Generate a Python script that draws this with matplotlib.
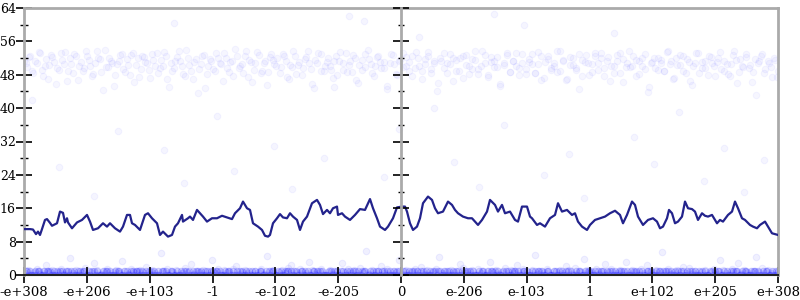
import numpy as np
import matplotlib
matplotlib.use('agg')
import matplotlib.pyplot as plt
from matplotlib.ticker import MultipleLocator

# x runs over 12 equal steps; positions are sample indices 0..754
x_tick_labels = ['-e+308', '-e+206', '-e+103', '-1', '-e-102', '-e-205', '0',
                 'e-206', 'e-103', '1', 'e+102', 'e+205', 'e+308']
x_span = 754

# moving average line
line_x = [0, 6, 9, 12, 14, 16, 18, 21, 23, 26, 28, 33, 36, 39, 41, 43, 44, 48, 53, 58, 63, 66, 69, 74, 79, 83, 86, 91, 96, 99, 103, 106, 108, 111, 116, 121, 124,
          128, 133, 136, 139, 144, 148, 151, 154, 158, 159, 164, 166, 169, 173, 176, 179, 183, 188, 193, 198, 203, 208, 211, 216, 219, 223, 226, 229, 234, 238, 241, 244, 246, 249,
          253, 256, 259, 263, 266, 269, 273, 276, 279, 283, 288, 293, 296, 299, 303, 306, 309, 313, 314, 318, 321, 326, 331, 336, 341, 346, 349, 353, 356, 361, 364, 369, 373, 378,
          381, 383, 386, 389, 393, 396, 399, 404, 408, 411, 414, 419, 424, 428, 431, 434, 439, 444, 448, 451, 454, 458, 463, 466, 471, 474, 478, 481, 486, 491, 494, 498, 503, 506,
          508, 513, 516, 521, 526, 531, 534, 538, 543, 548, 551, 554, 558, 563, 566, 571, 576, 581, 586, 591, 596, 599, 603, 608, 611, 614, 619, 624, 629,
          633, 636, 639, 643, 645, 648, 651, 654, 658, 661, 664, 668, 671, 674, 678, 681, 684, 688, 693, 696, 699, 704, 708, 711, 714, 718, 721, 726, 729, 733, 736, 741, 744, 748, 754]
line_y = [11.0, 11.0, 10.9, 9.8, 10.4, 9.6, 11.0, 13.2, 13.4, 12.5, 11.8, 12.4, 15.2, 14.9, 12.6, 13.6, 12.6, 11.2, 12.6, 13.2, 14.4, 12.8, 10.8, 11.2, 12.4, 11.6, 12.4, 11.2, 10.4, 11.6, 14.4, 14.4, 12.4, 12.0, 10.8, 14.4, 14.8,
          13.6, 12.4, 9.6, 10.4, 9.2, 9.6, 11.6, 12.4, 14.4, 12.8, 13.6, 14.0, 13.2, 15.6, 14.8, 14.0, 12.8, 13.6, 13.6, 14.2, 13.8, 13.4, 14.8, 16.0, 17.6, 16.0, 15.6, 12.4, 11.6, 10.8, 9.4, 9.2, 9.6, 12.4,
          13.6, 14.6, 13.8, 13.6, 14.8, 14.0, 13.2, 10.8, 12.8, 14.0, 17.2, 18.0, 16.8, 14.6, 15.6, 14.8, 16.0, 16.4, 14.4, 14.8, 14.0, 13.2, 14.4, 15.8, 15.6, 18.2, 16.0, 13.6, 11.6, 10.8, 11.6, 13.6, 16.2, 16.4,
          16.4, 15.2, 12.4, 10.8, 11.6, 13.6, 17.2, 18.8, 18.0, 16.0, 14.8, 15.2, 17.6, 16.8, 15.6, 14.8, 14.0, 13.6, 13.6, 12.8, 12.0, 13.2, 15.2, 18.0, 16.8, 15.2, 16.8, 14.8, 15.2, 13.2, 12.8, 16.4, 16.4, 14.0,
          13.6, 12.0, 12.4, 11.6, 13.6, 14.4, 17.2, 15.2, 15.6, 14.4, 14.8, 12.8, 11.6, 10.8, 12.0, 13.2, 13.6, 14.0, 14.8, 15.4, 14.4, 12.4, 14.4, 17.6, 16.8, 14.0, 12.0, 13.2, 13.6,
          12.8, 11.2, 11.6, 13.6, 15.6, 14.8, 12.4, 12.8, 14.0, 17.6, 16.0, 15.8, 15.2, 13.2, 14.8, 14.2, 14.0, 14.4, 12.4, 13.2, 12.8, 14.4, 15.2, 17.6, 16.0, 13.6, 13.2, 12.0, 11.6, 11.2, 12.0, 12.8, 11.6, 10.0, 9.6]

# upper cluster of samples (read approximately), two passes across the width
upper_y = [51.2, 49.8, 52.6, 48.4, 50.9, 53.1, 47.6, 51.7, 50.3, 52.2, 45.9, 49.1, 51.5, 53.4, 48.8, 50.6, 52.9, 46.7, 51.0, 49.5,
           52.4, 50.1, 48.2, 53.6, 51.8, 44.3, 49.9, 52.0, 50.7, 47.9, 51.3, 53.0, 48.6, 50.4, 52.7, 46.2, 51.9, 49.3, 52.3, 50.8,
           47.2, 51.6, 53.3, 49.6, 50.2, 52.5, 45.1, 48.9, 51.4, 53.8, 50.0, 47.7, 52.1, 49.0, 51.1, 43.6, 50.5, 52.8, 48.1, 51.7,
           49.4, 53.2, 50.9, 46.5, 52.0, 48.7, 51.3, 54.1, 49.7, 50.6, 52.6, 47.4, 51.0, 49.2, 53.5, 48.3, 50.8, 45.6, 52.2, 51.5,
           50.2, 48.5, 53.0, 51.2, 46.9, 49.9, 52.4, 50.4, 48.0, 51.8, 53.7, 49.4, 44.8, 50.7, 52.9, 48.8, 51.1, 50.0, 47.3, 52.5,
           51.4, 49.1, 53.3, 50.3, 48.6, 52.0, 46.0, 51.6, 49.8, 53.9, 50.5, 47.8, 52.3, 51.0, 49.6, 45.3, 50.9, 52.7, 48.2, 51.3,
           53.1, 50.1, 48.9, 52.6, 49.5, 51.9, 47.0, 50.6, 53.4, 48.4, 51.2, 44.0, 52.1, 49.7, 50.8, 53.0, 46.4, 51.5, 49.0, 52.4,
           50.4, 48.1, 51.7, 53.6, 49.3, 50.0, 52.8, 47.5, 51.1, 49.9, 52.2, 45.7, 50.7, 53.2, 48.6, 51.4, 50.2, 47.9, 52.9, 49.4,
           51.8, 50.5, 48.3, 53.5, 46.8, 51.0, 52.5, 49.1, 50.9, 48.7, 53.8, 51.3, 47.1, 50.3, 52.0, 49.6, 44.6, 51.6, 52.7, 48.0,
           50.6, 53.1, 49.2, 51.9, 47.6, 52.3, 50.1, 48.5, 51.2, 53.3, 46.3, 50.8, 49.8, 52.6, 51.5, 48.2, 50.0, 53.0, 45.0, 51.1,
           49.5, 52.1, 50.7, 48.8, 53.7, 51.4, 47.3, 50.4, 52.8, 49.0, 51.7, 46.6, 50.2, 53.2, 48.4, 51.0, 49.7, 52.4, 50.9, 47.8,
           52.0, 49.3, 51.3, 48.1, 50.5, 53.6, 46.1, 51.8, 49.9, 52.2, 50.3, 48.6, 43.2, 51.2, 52.9, 49.4, 50.8, 47.4, 51.6, 49.0]
upper_y2 = [50.7, 52.3, 48.9, 51.4, 53.5, 49.2, 50.0, 47.1, 52.8, 51.1, 49.6, 53.2, 50.5, 46.4, 51.9, 48.3, 52.5, 50.2, 49.0, 53.7,
            51.5, 47.8, 50.9, 52.1, 48.7, 54.0, 49.9, 51.3, 45.4, 50.6, 52.7, 49.4, 51.8, 48.0, 53.1, 50.3, 47.5, 52.4, 51.0, 49.1,
            52.9, 50.1, 48.5, 51.6, 53.4, 46.9, 50.8, 49.7, 52.2, 51.2, 48.2, 53.9, 50.4, 47.0, 51.7, 49.3, 52.6, 44.9, 50.0, 51.4,
            48.8, 52.0, 50.6, 53.3, 49.5, 51.1, 47.7, 52.4, 50.2, 48.4, 53.6, 51.5, 46.2, 50.9, 52.8, 49.0, 51.3, 48.6, 53.0, 50.5,
            51.9, 49.8, 52.5, 47.4, 50.3, 53.8, 48.1, 51.0, 49.6, 52.3, 50.7, 45.8, 51.6, 53.2, 48.9, 50.1, 52.0, 49.2, 51.4, 47.9,
            53.4, 50.8, 48.6, 51.2, 52.7, 46.7, 50.4, 49.1, 53.0, 51.8, 48.3, 50.0, 52.4, 49.7, 51.1, 44.5, 52.9, 50.6, 48.0, 51.5,
            49.9, 52.2, 51.0, 47.6, 53.5, 50.2, 48.8, 51.7, 52.6, 49.4, 50.9, 46.1, 51.3, 53.1, 48.5, 50.5, 52.1, 49.0, 51.9, 47.2,
            52.7, 50.0, 49.3, 51.6, 48.2, 53.7, 50.7, 47.9, 52.3, 51.2, 49.8, 45.2, 50.3, 52.8, 48.7, 51.4, 53.3, 49.5, 50.8, 48.1,
            51.1, 53.0, 48.4, 50.6, 52.5, 47.3, 51.8, 49.6, 50.1, 53.6, 48.9, 51.5, 46.8, 52.2, 50.4, 49.1, 52.9, 47.8, 51.0, 50.7,
            48.6, 52.4, 50.9, 53.2, 49.7, 51.3, 46.5, 50.2, 52.7, 48.3, 51.7, 49.9, 53.8, 50.0, 47.6, 51.2, 52.0, 49.4, 43.9, 50.8,
            52.1, 49.2, 51.6, 48.8, 53.4, 50.5, 47.0, 51.9, 50.3, 52.6, 48.5, 51.1, 45.6, 50.7, 53.1, 49.6, 51.4, 48.0, 52.3, 50.1,
            51.0, 53.5, 49.0, 50.6, 47.7, 52.8, 51.5, 48.7, 50.2, 53.0, 49.5, 46.3, 51.8, 50.9, 52.5, 48.4, 51.2, 49.8, 52.0, 47.4]

# lower cluster: the dense strip at 0 / 1 and the thinner fuzz above it
lower_strip_y = [0, 1, 1, 0, 1, 0, 0, 1, 0, 1, 1, 0, 0, 1, 0, 1, 1, 1, 0, 0, 1, 0, 1, 0, 1,
                 1, 0, 0, 1, 1, 0, 1, 0, 1, 0, 0, 1, 1, 0, 1, 1, 0, 0, 1, 0, 1, 1, 0, 1, 0,
                 0, 0, 1, 0, 1, 1, 0, 1, 0, 0, 1, 0, 1, 1, 0, 0, 1, 0, 1, 0, 0, 1, 1, 0, 1,
                 1, 1, 0, 1, 0, 0, 1, 0, 1, 1, 0, 1, 0, 0, 1, 0, 1, 1, 0, 1, 0, 0, 1, 1, 0,
                 0, 1, 0, 0, 1, 0, 1, 1, 0, 1, 0, 0, 1, 0, 1, 1, 0, 1, 0, 0, 1, 1, 0, 0, 1,
                 1, 0, 1, 1, 0, 1, 0, 0, 1, 0, 1, 1, 0, 1, 0, 0, 1, 0, 1, 1, 0, 0, 1, 0, 1,
                 0, 1, 0, 1, 0, 0, 1, 1, 0, 0, 1, 0, 1, 0, 1, 1, 0, 0, 1, 0, 1, 0, 0, 1, 1,
                 1, 0, 1, 0, 1, 1, 0, 0, 1, 1, 0, 1, 0, 1, 0, 0, 1, 1, 0, 1, 0, 1, 1, 0, 0,
                 0, 0, 1, 1, 0, 1, 0, 1, 0, 0, 1, 1, 0, 0, 1, 0, 1, 0, 1, 1, 0, 1, 0, 0, 1,
                 1, 1, 0, 0, 1, 0, 1, 0, 1, 1, 0, 0, 1, 1, 0, 1, 0, 1, 0, 0, 1, 0, 1, 1, 0,
                 0, 1, 1, 0, 0, 1, 0, 1, 1, 0, 1, 0, 0, 1, 1, 0, 1, 0, 0, 1, 0, 1, 1, 0, 1,
                 1, 0, 0, 1, 0, 1, 1, 0, 0, 1, 0, 1, 1, 0, 0, 1, 0, 1, 1, 0, 1, 0, 1, 0, 0,
                 0, 1, 0, 1, 1, 0, 0, 1, 0, 1, 1, 0, 1, 0, 1, 0, 0, 1, 0, 1, 1, 0, 0, 1, 1,
                 1, 0, 1, 0, 0, 1, 1, 0, 1, 0, 0, 1, 0, 1, 0, 1, 1, 0, 1, 0, 0, 1, 1, 0, 0,
                 0, 1, 1, 0, 1, 0, 1, 0, 0, 1, 1, 0, 1, 0, 0, 1, 0, 1, 1, 0, 0, 1, 0, 1, 1,
                 1, 0, 0, 1, 0, 1, 0, 1, 1, 0, 0, 1, 0, 1, 1, 0, 1, 0, 0, 1, 1, 0, 1, 0, 1,
                 0, 0, 1, 0, 1, 1, 0, 1, 0, 1, 0, 0, 1, 1, 0, 1, 0, 0, 1, 0, 1, 1, 0, 1, 0,
                 1, 1, 0, 1, 0, 0, 1, 0, 1, 0, 1, 1, 0, 0, 1, 0, 1, 1, 0, 1, 0, 0, 1, 0, 1,
                 0, 1, 0, 0, 1, 1, 0, 1, 0, 1, 1, 0, 0, 1, 0, 1, 0, 0, 1, 1, 0, 1, 1, 0, 0,
                 1, 0, 1, 1, 0, 0, 1, 0, 1, 1, 0, 1, 0, 0, 1, 0, 1, 1, 0, 0, 1, 0, 0, 1, 1]
lower_y = [0.4, 1.1, 0.0, 0.8, 1.5, 0.2, 0.9, 2.3, 0.6, 1.3, 0.0, 0.7, 1.4, 0.3, 1.0, 4.1, 0.5, 1.2, 0.1, 0.8, 1.6, 0.0, 0.6, 2.8, 1.1,
           0.3, 0.9, 1.4, 0.0, 0.7, 1.2, 0.4, 3.3, 1.0, 0.2, 1.5, 0.6, 0.0, 1.1, 0.8, 1.9, 0.3, 1.3, 0.5, 0.0, 5.2, 0.9, 1.4, 0.1, 0.7,
           1.2, 0.0, 0.5, 1.6, 0.8, 2.6, 0.2, 1.0, 0.6, 1.3, 0.0, 0.9, 3.7, 0.4, 1.5, 0.1, 1.1, 0.7, 0.0, 1.4, 2.1, 0.3, 0.8, 1.2, 0.5,
           0.0, 1.0, 0.6, 1.5, 0.2, 4.6, 0.9, 1.3, 0.0, 0.7, 1.1, 0.4, 1.6, 2.4, 0.1, 0.8, 1.4, 0.0, 0.5, 3.0, 1.2, 0.3, 0.9, 1.5, 0.0,
           0.7, 1.3, 0.2, 1.0, 0.0, 2.9, 0.6, 1.4, 0.4, 1.1, 0.0, 1.6, 0.8, 5.8, 0.3, 1.2, 0.1, 0.9, 2.2, 0.5, 1.5, 0.0, 1.0, 0.7, 3.5,
           0.2, 1.1, 0.0, 0.6, 1.4, 0.9, 2.0, 0.3, 1.2, 0.0, 0.8, 1.5, 4.3, 0.5, 1.0, 0.1, 1.3, 0.7, 0.0, 2.7, 1.6, 0.4, 0.9, 1.2, 0.0,
           1.4, 0.5, 0.0, 1.0, 3.1, 0.8, 1.3, 0.2, 0.6, 1.6, 0.0, 1.1, 0.4, 2.5, 0.9, 1.4, 0.0, 0.7, 1.2, 4.8, 0.3, 1.0, 0.6, 1.5, 0.1,
           0.9, 0.0, 1.3, 0.5, 2.2, 1.1, 0.3, 1.6, 0.0, 0.8, 3.9, 1.2, 0.6, 0.0, 1.4, 0.2, 1.0, 2.6, 0.7, 1.5, 0.0, 0.4, 1.1, 0.9, 3.2,
           0.1, 1.2, 0.7, 0.0, 1.5, 0.4, 2.4, 1.0, 0.6, 1.3, 0.0, 5.5, 0.9, 1.4, 0.2, 0.8, 1.1, 0.0, 2.0, 0.5, 1.6, 0.3, 1.0, 0.0, 0.7,
           1.3, 0.0, 0.8, 1.5, 0.2, 3.6, 1.1, 0.5, 0.0, 1.4, 0.9, 2.8, 0.3, 1.2, 0.6, 0.0, 1.0, 4.4, 0.7, 1.6, 0.1, 1.3, 0.4, 0.9, 0.0]

# scattered stray samples
stray_x = [8, 35, 70, 94, 140, 160, 193, 210, 250, 268, 300, 325, 340, 360, 375, 395, 410, 430,
           455, 480, 500, 520, 545, 560, 590, 610, 630, 655, 680, 700, 720, 740, 310, 150, 470]
stray_y = [42, 26, 19, 34.5, 30, 22, 38, 25, 31, 20.5, 28, 62, 61, 23.5, 35, 57, 40, 27,
           21, 36, 60, 24, 29, 18.5, 58, 33, 26.5, 39, 22.5, 30.5, 20, 27.5, 45, 60.5, 62.5]

serif = 'DejaVu Serif'
spine_grey = '#aaaaaa'
dot_blue = '#0000ff'

fig = plt.figure(figsize=(8, 3), dpi=100)
ax = fig.add_axes([24 / 800, 25 / 300, 754 / 800, 267 / 300])

ax.scatter(np.linspace(0, x_span, len(upper_y)), upper_y, s=22, color=dot_blue, alpha=0.035, linewidths=0.8, zorder=1)
ax.scatter(np.linspace(2, x_span - 1, len(upper_y2)), upper_y2, s=22, color=dot_blue, alpha=0.035, linewidths=0.8, zorder=1)
ax.scatter(stray_x, stray_y, s=22, color=dot_blue, alpha=0.04, linewidths=0.8, zorder=1)
ax.scatter(np.linspace(0, x_span, len(lower_strip_y)), lower_strip_y, s=22, color=dot_blue, alpha=0.14, linewidths=0.8, zorder=1)
ax.scatter(np.linspace(1, x_span - 1, len(lower_y)), lower_y, s=22, color=dot_blue, alpha=0.06, linewidths=0.8, zorder=1)
ax.plot(line_x, line_y, color='#23238c', lw=1.6, zorder=3)

ax.set_xlim(0, x_span)
ax.set_ylim(0, 64)
ax.set_xticks(np.linspace(0, x_span, 13))
ax.set_xticklabels(x_tick_labels, family=serif, fontsize=9.5)
ax.yaxis.set_major_locator(MultipleLocator(8))
ax.yaxis.set_minor_locator(MultipleLocator(4))
for lab in ax.get_yticklabels():
    lab.set_family(serif)
    lab.set_fontsize(9)

ax.tick_params(axis='x', direction='inout', length=12, width=1.2, pad=2)
ax.tick_params(axis='y', which='major', direction='inout', length=12, width=1.2,
               pad=0, right=True)
ax.tick_params(axis='y', which='minor', direction='inout', length=6, width=1.0, right=True)

for side in ['left', 'right', 'top']:
    ax.spines[side].set_color(spine_grey)
    ax.spines[side].set_linewidth(2)
ax.spines['bottom'].set_color('#222222')
ax.spines['bottom'].set_linewidth(1.5)

# middle vertical axis at x = 0
ax2 = ax.twinx()
ax2.set_ylim(0, 64)
ax2.spines['left'].set_position(('axes', 0.5))
ax2.yaxis.set_ticks_position('left')
ax2.spines['left'].set_color(spine_grey)
ax2.spines['left'].set_linewidth(2)
for side in ['right', 'top', 'bottom']:
    ax2.spines[side].set_visible(False)
ax2.yaxis.set_major_locator(MultipleLocator(8))
ax2.yaxis.set_minor_locator(MultipleLocator(4))
ax2.tick_params(axis='y', which='major', direction='inout', length=11, width=1.2, labelleft=False)
ax2.tick_params(axis='y', which='minor', direction='inout', length=5, width=1.0, labelleft=False)

fig.savefig('out.png', dpi=100)
